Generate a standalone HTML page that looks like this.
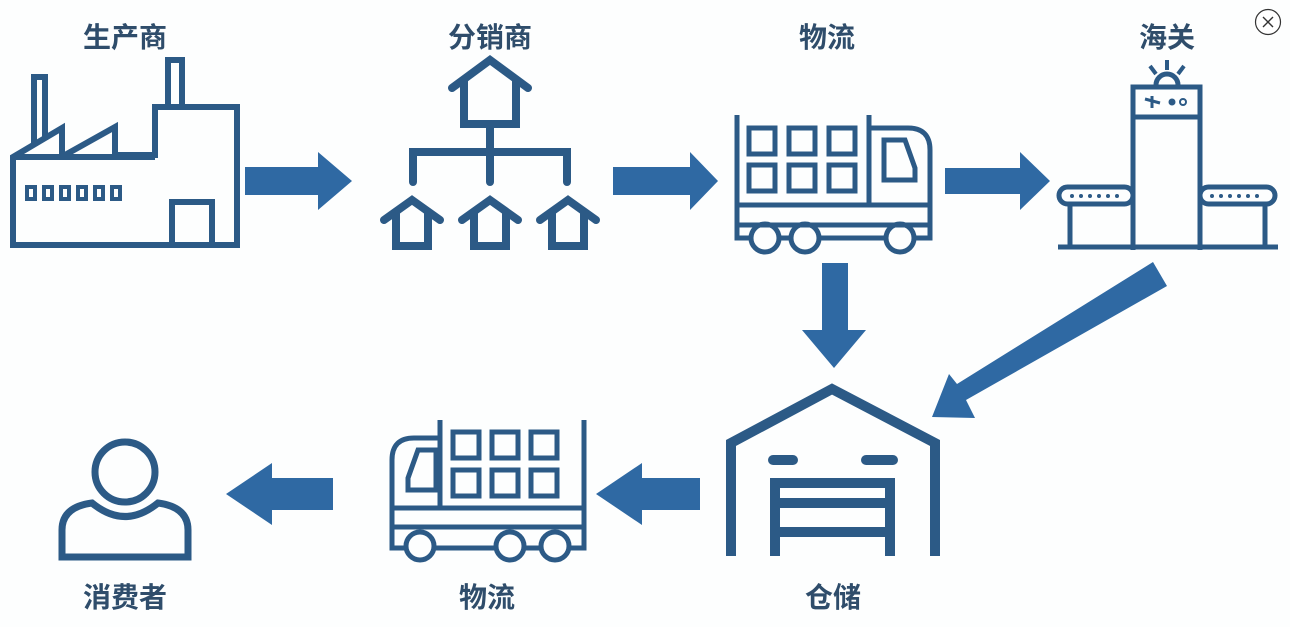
<!DOCTYPE html>
<html><head><meta charset="utf-8"><style>
html,body{margin:0;padding:0;background:#fff;}
svg{display:block}
text{font-family:"Liberation Sans","Noto Sans CJK SC",sans-serif;font-weight:bold;fill:#2f4d6b;font-size:28px;text-anchor:middle}
</style></head><body>
<svg width="1290" height="627" viewBox="0 0 1290 627" xmlns="http://www.w3.org/2000/svg">
<rect width="1290" height="627" fill="#fdfefe"/>
<text x="125" y="47">生产商</text>
<text x="490" y="47">分销商</text>
<text x="827" y="47">物流</text>
<text x="1167" y="47">海关</text>
<text x="125" y="607">消费者</text>
<text x="487" y="607">物流</text>
<text x="833" y="607">仓储</text>
<circle cx="1268" cy="22" r="12.5" fill="#fff" stroke="#333" stroke-width="1.2"/>
<path d="M1263 17 L1273 27 M1273 17 L1263 27" stroke="#333" stroke-width="1.4"/>

<g fill="none" stroke="#2c5a86" stroke-width="6" stroke-linejoin="miter">
<!-- factory -->
<path d="M34 146 V77 H45 V140"/>
<path d="M168 107 V60 H182 V107"/>
<path d="M13 245 V157 L62 128 V155 L65 155 L115 127 V155 H155 V107 H237 V245 Z"/>
<path d="M13 157 H155"/>
<path d="M172 245 V202 H212 V245"/>
<g stroke-width="4"><rect x="27" y="187" width="8" height="12"/><rect x="44" y="187" width="8" height="12"/><rect x="61" y="187" width="8" height="12"/><rect x="78" y="187" width="8" height="12"/><rect x="95" y="187" width="8" height="12"/><rect x="112" y="187" width="8" height="12"/></g>

<!-- distributor -->
<g stroke-width="8" stroke-linecap="round">
<path d="M452 88 L490 60 L528 88"/><path d="M464 80 V124 H516 V80"/>
<path d="M490 124 V182 M413 182 V152 H567 V182"/>
<path d="M384 220 L412 200 L440 220"/><path d="M396 212 V246 H428 V212"/>
<path d="M462 220 L490 200 L518 220"/><path d="M474 212 V246 H506 V212"/>
<path d="M540 220 L568 200 L596 220"/><path d="M552 212 V246 H584 V212"/>
</g>

<!-- truck 1 -->
<g stroke-width="5">
<path d="M737 115 V238 H750 M780 238 H790 M820 238 H885 M915 238 H930 V150 Q930 128 908 128 H869 V115"/>
<path d="M737 205 H930 M737 225 H930"/>
<rect x="749" y="128" width="26" height="26"/><rect x="789" y="128" width="26" height="26"/><rect x="829" y="128" width="26" height="26"/>
<rect x="749" y="165" width="26" height="26"/><rect x="789" y="165" width="26" height="26"/><rect x="829" y="165" width="26" height="26"/>
<path d="M869 128 V205"/><path d="M884 140 H905 L915 168 V180 H884 Z"/>
<circle cx="765" cy="238" r="14"/><circle cx="805" cy="238" r="14"/><circle cx="900" cy="238" r="14"/>
</g>

<!-- customs -->
<g stroke-width="5">
<path d="M1133 250 V87 H1200 V250"/><path d="M1133 117 H1200"/>
<path d="M1156 85 A11 11 0 0 1 1178 85"/>
<path d="M1167 60 V70 M1150 66 L1156 74 M1184 66 L1178 74" stroke-width="4"/>
<rect x="1059" y="187" width="74" height="17" rx="8.5"/><rect x="1200" y="187" width="75" height="17" rx="8.5"/>
<path d="M1070 204 V247 M1265 204 V247 M1058 247 H1278"/>
</g>
<g fill="#2c5a86" stroke="none">
<circle cx="1172" cy="102" r="3.5"/>
<circle cx="1072" cy="196" r="2"/><circle cx="1081" cy="196" r="2"/><circle cx="1090" cy="196" r="2"/><circle cx="1099" cy="196" r="2"/><circle cx="1108" cy="196" r="2"/><circle cx="1117" cy="196" r="2"/>
<circle cx="1212" cy="196" r="2"/><circle cx="1221" cy="196" r="2"/><circle cx="1230" cy="196" r="2"/><circle cx="1239" cy="196" r="2"/><circle cx="1248" cy="196" r="2"/><circle cx="1257" cy="196" r="2"/>
</g>
<circle cx="1183" cy="102" r="3" stroke-width="2"/>
<path d="M1145 99 L1160 103 M1152 96 L1152 108" stroke-width="3"/>

<!-- warehouse -->
<g stroke-width="10">
<path d="M731 556 V443 L832 389 L935 443 V556"/>
<path d="M775 556 V483 H890 V556"/>
<path d="M775 503 H890 M775 532 H890"/>
<path d="M773 460 H793 M866 460 H893" stroke-linecap="round"/>
</g>

<!-- truck 2 -->
<g stroke-width="5">
<path d="M584 420 V548 H570 M540 548 H525 M495 548 H435 M405 548 H392 V460 Q392 438 414 438 H440 V420"/>
<path d="M392 508 H584 M392 527 H584"/>
<rect x="453" y="432" width="26" height="26"/><rect x="492" y="432" width="26" height="26"/><rect x="531" y="432" width="26" height="26"/>
<rect x="453" y="470" width="26" height="26"/><rect x="492" y="470" width="26" height="26"/><rect x="531" y="470" width="26" height="26"/>
<path d="M440 438 V508"/><path d="M436 450 H418 L408 478 V490 H436 Z"/>
<circle cx="420" cy="546" r="14"/><circle cx="510" cy="546" r="14"/><circle cx="555" cy="546" r="14"/>
</g>

<!-- person -->
<g stroke-width="7">
<circle cx="125" cy="472" r="30"/>
<path d="M62 557 V530 Q62 507 92 503 Q125 530 158 503 Q188 507 188 530 V557 Z"/>
</g>
</g>

<!-- arrows -->
<g fill="#2f69a3">
<path d="M245 167 H318 V152 L352 181 L318 210 V195 H245 Z"/>
<path d="M613 167 H690 V152 L718 181 L690 210 V195 H613 Z"/>
<path d="M945 168 H1020 V152 L1050 181 L1020 210 V194 H945 Z"/>
<path d="M822 263 H848 V330 H866 L834 368 L802 330 H822 Z"/>
<path d="M1153 262 L1167 286 L966 400 L975 418 L932 417 L949 374 L957 384 Z"/>
<path d="M700 478 H642 V463 L596 494 L642 525 V510 H700 Z"/>
<path d="M333 478 H272 V463 L226 494 L272 525 V510 H333 Z"/>
</g>
</svg>
</body></html>
